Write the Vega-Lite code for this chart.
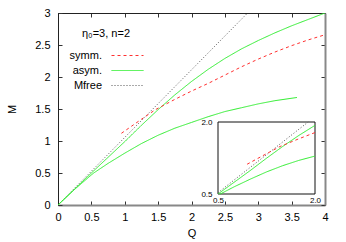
{
  "$schema": "https://vega.github.io/schema/vega-lite/v6.json",
  "width": 267,
  "height": 192,
  "autosize": "none",
  "padding": {"left": 58, "top": 13, "right": 21, "bottom": 37},
  "background": "white",
  "config": {
    "font": "Liberation Sans",
    "view": {"stroke": "#222222", "strokeWidth": 1},
    "axis": {"grid": false, "labelFlush": false, "labelOverlap": false, "labelColor": "#000000", "titleColor": "#000000", "labelFontSize": 11, "titleFontSize": 11, "titleFontWeight": "normal", "tickColor": "#333333", "domainColor": "#888888"},
    "legend": {"orient": "none", "legendX": 24, "legendY": 15, "titleAnchor": "start", "titleAlign": "left", "titleFontSize": 11, "titleFontWeight": "normal", "titlePadding": 11, "titleColor": "#000000", "labelFontSize": 11, "labelColor": "#000000", "labelAlign": "right", "labelOffset": -31, "symbolType": "M-4,0H4", "symbolSize": 64, "symbolOffset": 40, "symbolStrokeWidth": 1, "rowPadding": 3, "padding": 0}
  },
  "datasets": {
    "curves": [
      {"s": "Mfree", "c": "free", "Q": 0, "M": 0},
      {"s": "Mfree", "c": "free", "Q": 0.5, "M": 0.528},
      {"s": "Mfree", "c": "free", "Q": 1.894, "M": 2.0},
      {"s": "Mfree", "c": "free", "Q": 2.84, "M": 3.0},
      {"s": "asym.", "c": "up", "Q": 0, "M": 0},
      {"s": "asym.", "c": "up", "Q": 0.5, "M": 0.5},
      {"s": "asym.", "c": "up", "Q": 1.0, "M": 0.99},
      {"s": "asym.", "c": "up", "Q": 1.25, "M": 1.245},
      {"s": "asym.", "c": "up", "Q": 1.5, "M": 1.49},
      {"s": "asym.", "c": "up", "Q": 1.75, "M": 1.72},
      {"s": "asym.", "c": "up", "Q": 2.0, "M": 1.93},
      {"s": "asym.", "c": "up", "Q": 2.25, "M": 2.12},
      {"s": "asym.", "c": "up", "Q": 2.5, "M": 2.29},
      {"s": "asym.", "c": "up", "Q": 2.75, "M": 2.44},
      {"s": "asym.", "c": "up", "Q": 3.0, "M": 2.57},
      {"s": "asym.", "c": "up", "Q": 3.25, "M": 2.69},
      {"s": "asym.", "c": "up", "Q": 3.5, "M": 2.8},
      {"s": "asym.", "c": "up", "Q": 3.75, "M": 2.9},
      {"s": "asym.", "c": "up", "Q": 4.0, "M": 3.0},
      {"s": "asym.", "c": "low", "Q": 0, "M": 0},
      {"s": "asym.", "c": "low", "Q": 0.25, "M": 0.245},
      {"s": "asym.", "c": "low", "Q": 0.5, "M": 0.47},
      {"s": "asym.", "c": "low", "Q": 0.535, "M": 0.5},
      {"s": "asym.", "c": "low", "Q": 0.75, "M": 0.65},
      {"s": "asym.", "c": "low", "Q": 1.0, "M": 0.81},
      {"s": "asym.", "c": "low", "Q": 1.25, "M": 0.96},
      {"s": "asym.", "c": "low", "Q": 1.5, "M": 1.09},
      {"s": "asym.", "c": "low", "Q": 1.75, "M": 1.2},
      {"s": "asym.", "c": "low", "Q": 2.0, "M": 1.29},
      {"s": "asym.", "c": "low", "Q": 2.25, "M": 1.38},
      {"s": "asym.", "c": "low", "Q": 2.5, "M": 1.46},
      {"s": "asym.", "c": "low", "Q": 2.75, "M": 1.52},
      {"s": "asym.", "c": "low", "Q": 3.0, "M": 1.58},
      {"s": "asym.", "c": "low", "Q": 3.25, "M": 1.63},
      {"s": "asym.", "c": "low", "Q": 3.58, "M": 1.68},
      {"s": "symm.", "c": "sym", "Q": 0.95, "M": 1.12},
      {"s": "symm.", "c": "sym", "Q": 1.1, "M": 1.23},
      {"s": "symm.", "c": "sym", "Q": 1.25, "M": 1.34},
      {"s": "symm.", "c": "sym", "Q": 1.46, "M": 1.49},
      {"s": "symm.", "c": "sym", "Q": 1.75, "M": 1.65},
      {"s": "symm.", "c": "sym", "Q": 2.0, "M": 1.78},
      {"s": "symm.", "c": "sym", "Q": 2.25, "M": 1.9},
      {"s": "symm.", "c": "sym", "Q": 2.5, "M": 2.03},
      {"s": "symm.", "c": "sym", "Q": 2.75, "M": 2.16},
      {"s": "symm.", "c": "sym", "Q": 3.0, "M": 2.28},
      {"s": "symm.", "c": "sym", "Q": 3.25, "M": 2.39},
      {"s": "symm.", "c": "sym", "Q": 3.5, "M": 2.49},
      {"s": "symm.", "c": "sym", "Q": 3.75, "M": 2.58},
      {"s": "symm.", "c": "sym", "Q": 4.0, "M": 2.66}
    ]
  },
  "layer": [
    {
      "data": {"name": "curves"},
      "layer": [
        {
          "mark": {"type": "line", "strokeWidth": 1, "clip": true},
          "encoding": {
            "x": {"field": "Q", "type": "quantitative", "scale": {"domain": [0, 4], "nice": false, "zero": false},
              "axis": {"orient": "bottom", "title": "Q", "values": [0, 0.5, 1, 1.5, 2, 2.5, 3, 3.5, 4], "format": "~g", "tickSize": -4, "labelPadding": 10, "titlePadding": 5, "domainWidth": 2}},
            "y": {"field": "M", "type": "quantitative", "scale": {"domain": [0, 3], "nice": false, "zero": false},
              "axis": {"orient": "left", "title": "M", "values": [0, 0.5, 1, 1.5, 2, 2.5, 3], "format": "~g", "tickSize": -4, "labelPadding": 12, "titlePadding": 17, "domainColor": "#222222", "domainWidth": 1}},
            "color": {"field": "s", "type": "nominal", "scale": {"domain": ["symm.", "asym.", "Mfree"], "range": ["#ff3030", "#30ee30", "#555555"]},
              "legend": {"title": "η₀=3, n=2"}},
            "strokeDash": {"field": "s", "type": "nominal", "scale": {"domain": ["symm.", "asym.", "Mfree"], "range": [[3, 3], [1, 0], [1, 2]]},
              "legend": {"title": "η₀=3, n=2"}},
            "detail": {"field": "c", "type": "nominal"}
          }
        },
        {
          "mark": {"type": "line", "opacity": 0},
          "encoding": {
            "x": {"field": "Q", "type": "quantitative", "axis": {"orient": "top", "title": null, "labels": false, "values": [0, 0.5, 1, 1.5, 2, 2.5, 3, 3.5, 4], "tickSize": -4, "domainColor": "#222222", "domainWidth": 1}},
            "y": {"field": "M", "type": "quantitative", "axis": {"orient": "right", "title": null, "labels": false, "values": [0, 0.5, 1, 1.5, 2, 2.5, 3], "tickSize": -4, "domainWidth": 2}},
            "detail": {"field": "c", "type": "nominal"}
          }
        }
      ]
    },
    {
      "layer": [
        {
          "data": {"values": [{}]},
          "mark": {"type": "rect", "fill": "white", "stroke": "#111111", "strokeWidth": 1},
          "encoding": {
            "x": {"datum": 0.5, "type": "quantitative", "scale": {"domain": [0.5, 2], "range": [160, 257], "nice": false, "zero": false},
              "axis": {"orient": "bottom", "offset": -11, "values": [0.5, 2], "format": ".1f", "domain": false, "ticks": false, "labelFontSize": 8, "labelPadding": 2, "title": null}},
            "x2": {"datum": 2},
            "y": {"datum": 0.5, "type": "quantitative", "scale": {"domain": [0.5, 2], "range": [181, 109], "nice": false, "zero": false},
              "axis": {"orient": "left", "offset": -160, "values": [0.5, 2], "format": ".1f", "domain": false, "ticks": false, "labelFontSize": 8, "labelPadding": 6, "title": null}},
            "y2": {"datum": 2}
          }
        },
        {
          "data": {"name": "curves"},
          "transform": [{"filter": "datum.Q >= 0.5 && datum.Q <= 2.0 && datum.M >= 0.5 && datum.M <= 2.0"}],
          "mark": {"type": "line", "strokeWidth": 1},
          "encoding": {
            "x": {"field": "Q", "type": "quantitative"},
            "y": {"field": "M", "type": "quantitative"},
            "color": {"field": "s", "type": "nominal", "legend": null},
            "strokeDash": {"field": "s", "type": "nominal", "legend": null},
            "detail": {"field": "c", "type": "nominal"}
          }
        }
      ]
    }
  ],
  "resolve": {"scale": {"x": "independent", "y": "independent"}}
}
